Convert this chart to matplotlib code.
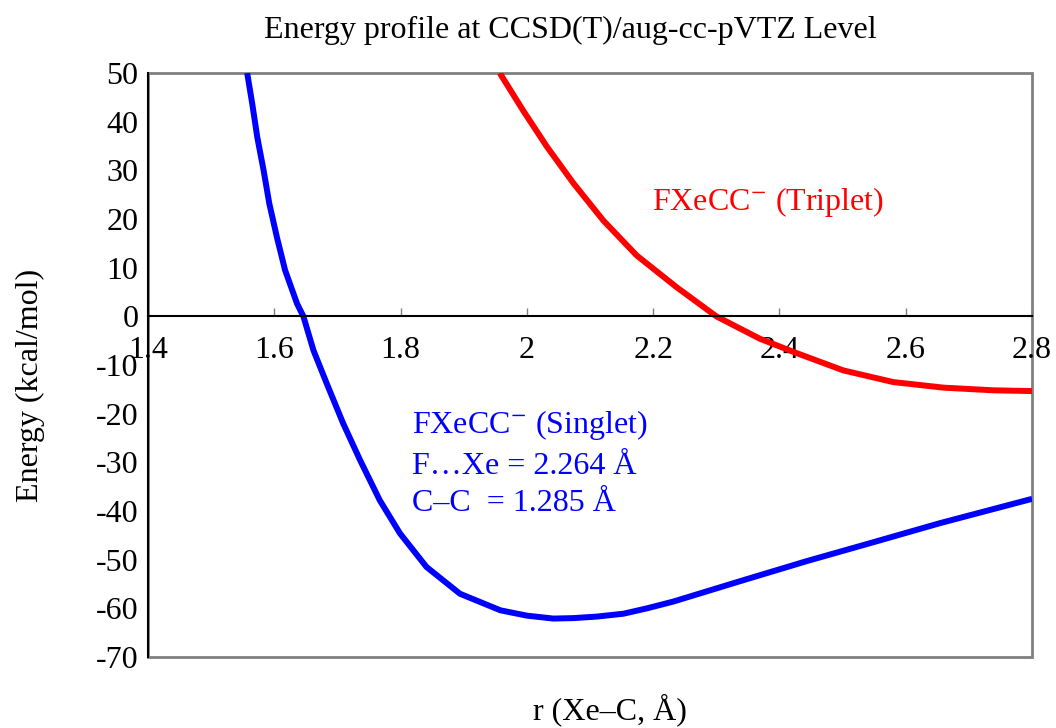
import matplotlib.pyplot as plt
from matplotlib.patches import Rectangle

plt.rcParams['font.family'] = ['Liberation Serif', 'DejaVu Serif']
plt.rcParams['mathtext.fontset'] = 'stix'
plt.rcParams['axes.unicode_minus'] = False

# singlet curve
r_singlet = [1.557, 1.565, 1.573, 1.583, 1.592, 1.604, 1.617, 1.636, 1.646, 1.662, 1.683, 1.709,
             1.736, 1.767, 1.799, 1.841, 1.894, 1.958, 2.000, 2.042, 2.074, 2.110, 2.153, 2.190,
             2.232, 2.280, 2.338, 2.443, 2.549, 2.654, 2.800]
e_singlet = [50, 43.7, 36.8, 30.0, 23.2, 16.3, 9.5, 2.6, 0, -7.0, -13.8, -22.0,
             -29.6, -37.8, -44.6, -51.5, -57.0, -60.4, -61.5, -62.1, -62.0, -61.7, -61.1, -60.0,
             -58.6, -56.7, -54.4, -50.3, -46.4, -42.5, -37.5]

# triplet curve
r_triplet = [1.957, 1.994, 2.032, 2.074, 2.121, 2.174, 2.237, 2.300, 2.369, 2.422, 2.501, 2.580,
             2.660, 2.739, 2.800]
e_triplet = [50, 42.3, 34.8, 27.3, 19.7, 12.5, 6.0, 0, -4.6, -7.3, -11.1, -13.5,
             -14.65, -15.2, -15.35]

xticks = [1.4, 1.6, 1.8, 2.0, 2.2, 2.4, 2.6, 2.8]
xlabels = ['1.4', '1.6', '1.8', '2', '2.2', '2.4', '2.6', '2.8']
yticks = list(range(-70, 51, 10))

fig = plt.figure(figsize=(10.56, 7.28), dpi=100)
ax = fig.add_axes([0.1402, 0.0975, 0.8371, 0.8022])

ax.plot(r_singlet, e_singlet, color='#0000ff', lw=4.3, solid_capstyle='butt', solid_joinstyle='round')
ax.plot(r_triplet, e_triplet, color='#ff0000', lw=4.3, solid_capstyle='butt', solid_joinstyle='round')

ax.set_xlim(1.4, 2.8)
ax.set_ylim(-70, 50)

for s in ['top', 'right']:
    ax.spines[s].set_visible(False)
ax.spines['bottom'].set_position(('data', 0))
ax.spines['bottom'].set_linewidth(1.5)
ax.spines['left'].set_linewidth(1.5)
ax.add_patch(Rectangle((0, 0), 1, 1, transform=ax.transAxes, fill=False,
                       edgecolor='#808080', lw=2, clip_on=False, zorder=0))

ax.set_xticks(xticks)
ax.set_xticklabels(xlabels)
ax.set_yticks(yticks)
ax.tick_params(axis='x', direction='in', length=6, width=1, pad=14, labelsize=23, color='#808080')
ax.tick_params(axis='y', direction='out', length=0, pad=7, labelsize=23)

ax.text(2.198, 23.4, 'FXeCC$^{-}$ (Triplet)', color='#ff0000', fontsize=23, va='center')
ax.text(1.818, -22.4, 'FXeCC$^{-}$ (Singlet)', color='#0000ff', fontsize=23, va='center')
ax.text(1.818, -30.8, 'F\u2026Xe = 2.264 Å', color='#0000ff', fontsize=23, va='center')
ax.text(1.818, -38.4, 'C\u2013C  = 1.285 Å', color='#0000ff', fontsize=23, va='center')

fig.text(0.54, 0.958, 'Energy profile at CCSD(T)/aug-cc-pVTZ Level', fontsize=23, ha='center', va='center')
fig.text(0.578, 0.025, 'r (Xe\u2013C, Å)', fontsize=23, ha='center', va='center')
fig.text(0.029, 0.471, 'Energy (kcal/mol)', fontsize=23, ha='center', va='center', rotation=90)

fig.savefig('out.png', dpi=100)
